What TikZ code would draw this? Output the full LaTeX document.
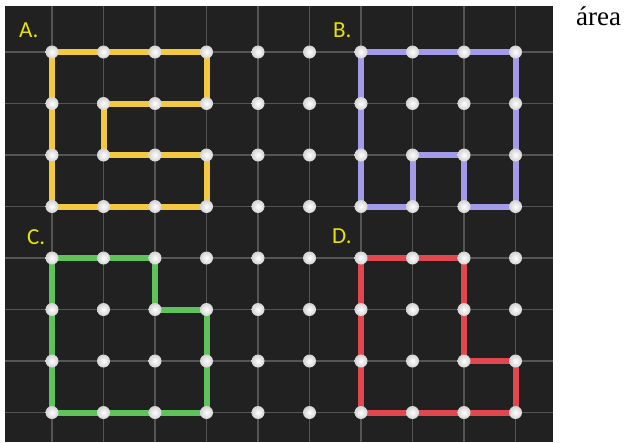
\documentclass[tikz,border=0pt]{standalone}
\usepackage{fontspec}
\setmainfont{Liberation Serif}
\newfontfamily\labfont{Carlito}
\usetikzlibrary{calc}
\tikzset{>=latex}
\definecolor{boardbg}{HTML}{212121}
\definecolor{gridgray}{HTML}{555555}
\definecolor{bandyellow}{HTML}{F3C842}
\definecolor{bandpurple}{HTML}{A29BEA}
\definecolor{bandgreen}{HTML}{5EC35A}
\definecolor{bandred}{HTML}{E0474F}
\definecolor{labelyellow}{HTML}{E8E300}
\tikzset{
  gridline/.style={gridgray,line width=1.3pt},
  band/.style={line width=6pt,line join=miter},
  boardlabel/.style={anchor=base west,inner sep=0pt,text=labelyellow,
    font=\labfont\fontsize{23}{25}\selectfont}
}

\begin{document}
\begin{tikzpicture}[x=1pt,y=-1pt]
        \useasboundingbox (0,0) rectangle (631,442);
        \fill[boardbg] (5,6) rectangle (553,442);
        % grid of the board
        \foreach \i in {0,...,9}
          \draw[gridline] (52+51.5*\i,6) -- (52+51.5*\i,442);
        \foreach \j in {0,...,7}
          \draw[gridline] (5,52+51.5*\j) -- (553,52+51.5*\j);
        \foreach \i in {0,...,9}
          \foreach \j in {0,...,7}
            \coordinate (p\i\j) at (52+51.5*\i,52+51.5*\j);
        % rubber bands
        \draw[band,bandyellow] (p00) -- (p30) -- (p31) -- (p11) -- (p12)
        -- (p32) -- (p33) -- (p03) -- cycle;
        \draw[band,bandpurple] (p60) -- (p90) -- (p93) -- (p83) -- (p82)
        -- (p72) -- (p73) -- (p63) -- cycle;
        \draw[band,bandgreen] (p04) -- (p24) -- (p25) -- (p35) -- (p37)
        -- (p07) -- cycle;
        \draw[band,bandred] (p64) -- (p84) -- (p86) -- (p96) -- (p97)
        -- (p67) -- cycle;
        % pegs
        \foreach \i in {0,...,9}
          \foreach \j in {0,...,7}
            \shade[inner color=white,outer color=white!65!gray] (p\i\j) circle (6.5pt);
        \node[boardlabel] (labA) at (19,37) {A.};
        \node[boardlabel] (labB) at (333,37) {B.};
        \node[boardlabel] (labC) at (27,244) {C.};
        \node[boardlabel] (labD) at (332,243) {D.};
        \node[anchor=base west,inner sep=0pt,font=\fontsize{27}{30}\selectfont]
        (area) at (576,25) {área};
      \end{tikzpicture}
\end{document}
